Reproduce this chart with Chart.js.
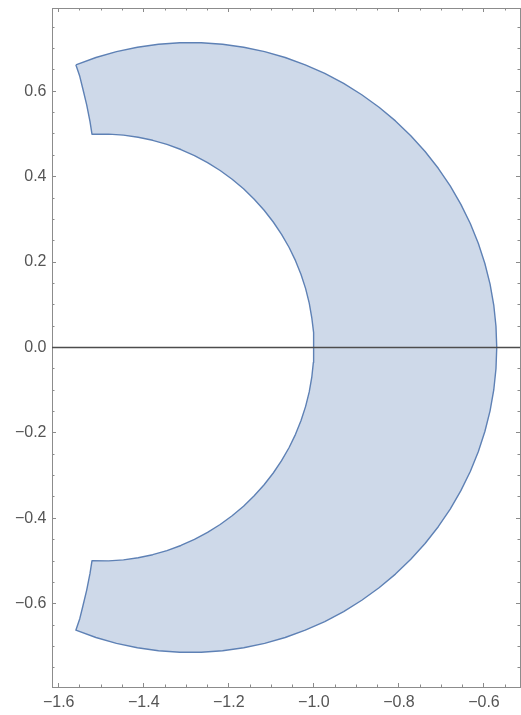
<!DOCTYPE html>
<html>
<head>
<meta charset="utf-8">
<script src="https://cdn.jsdelivr.net/npm/chart.js@4.4.1/dist/chart.umd.min.js"></script>
<style>
  html, body { margin: 0; padding: 0; background: #ffffff; }
  canvas { display: block; }
</style>
</head>
<body>
<canvas id="c" width="521" height="715"></canvas>
<script>
// Axis ranges and tick steps
const xRange = [-1.6158, -0.5153];
const yRange = [-0.795, 0.795];
const majorStep = 0.2;
const minorStep = 0.05;

// Outer arc: from the upper-left corner, clockwise round the right side, to the lower-left corner
const outerArcX = [-1.5597,-1.5125,-1.4642,-1.4150,-1.3653,-1.3151,-1.2649,-1.2147,-1.1650,-1.1158,-1.0675,-1.0203,-0.9744,-0.9300,-0.8874,-0.8467,-0.8082,-0.7721,-0.7385,-0.7075,-0.6794,-0.6543,-0.6322,-0.6134,-0.5979,-0.5857,-0.5770,-0.5718,-0.5700,
                   -0.5718,-0.5770,-0.5857,-0.5979,-0.6134,-0.6322,-0.6543,-0.6794,-0.7075,-0.7385,-0.7721,-0.8082,-0.8467,-0.8874,-0.9300,-0.9744,-1.0203,-1.0675,-1.1158,-1.1650,-1.2147,-1.2649,-1.3151,-1.3653,-1.4150,-1.4642,-1.5125,-1.5597];
const outerArcY = [0.6620,0.6791,0.6928,0.7032,0.7101,0.7136,0.7136,0.7101,0.7032,0.6928,0.6791,0.6620,0.6417,0.6183,0.5919,0.5626,0.5306,0.4960,0.4590,0.4197,0.3784,0.3352,0.2904,0.2442,0.1968,0.1484,0.0994,0.0498,0.0000,
                   -0.0498,-0.0994,-0.1484,-0.1968,-0.2442,-0.2904,-0.3352,-0.3784,-0.4197,-0.4590,-0.4960,-0.5306,-0.5626,-0.5919,-0.6183,-0.6417,-0.6620,-0.6791,-0.6928,-0.7032,-0.7101,-0.7136,-0.7136,-0.7101,-0.7032,-0.6928,-0.6791,-0.6620];

// Lower-left edge: outer lower corner to the lower end of the inner arc
const lowerEdgeX = [-1.5505,-1.5436,-1.5342,-1.5264,-1.5218];
const lowerEdgeY = [-0.6350,-0.6070,-0.5680,-0.5290,-0.4995];

// Inner arc: from its lower end, through (-1, 0), to its upper end
const innerArcX = [-1.4826,-1.4477,-1.4132,-1.3790,-1.3455,-1.3127,-1.2808,-1.2500,-1.2204,-1.1922,-1.1654,-1.1403,-1.1170,-1.0955,-1.0760,-1.0585,-1.0432,-1.0302,-1.0194,-1.0109,-1.0049,-1.0012,-1.0000,
                   -1.0012,-1.0049,-1.0109,-1.0194,-1.0302,-1.0432,-1.0585,-1.0760,-1.0955,-1.1170,-1.1403,-1.1654,-1.1922,-1.2204,-1.2500,-1.2808,-1.3127,-1.3455,-1.3790,-1.4132,-1.4477,-1.4826,-1.5218];
const innerArcY = [-0.4997,-0.4973,-0.4924,-0.4852,-0.4755,-0.4636,-0.4494,-0.4330,-0.4145,-0.3940,-0.3716,-0.3473,-0.3214,-0.2939,-0.2650,-0.2347,-0.2034,-0.1710,-0.1378,-0.1040,-0.0696,-0.0349,0.0000,
                   0.0349,0.0696,0.1040,0.1378,0.1710,0.2034,0.2347,0.2650,0.2939,0.3214,0.3473,0.3716,0.3940,0.4145,0.4330,0.4494,0.4636,0.4755,0.4852,0.4924,0.4973,0.4997,0.4995];

// Upper-left edge: upper end of the inner arc back to the outer upper corner
const upperEdgeX = [-1.5264,-1.5342,-1.5436,-1.5505,-1.5597];
const upperEdgeY = [0.5290,0.5680,0.6070,0.6350,0.6620];

// Horizontal axis line at y = 0
const axisLineX = [-1.6158, -0.5153];
const axisLineY = [0, 0];

const toPts = (xs, ys) => xs.map((x, i) => ({x: x, y: ys[i]}));
const regionPts = [].concat(
  toPts(outerArcX, outerArcY),
  toPts(lowerEdgeX, lowerEdgeY),
  toPts(innerArcX, innerArcY),
  toPts(upperEdgeX, upperEdgeY)
);

const fmt = v => {
  const r = Math.round(v * 10) / 10;
  return (r < 0 ? '\u2212' : '') + Math.abs(r).toFixed(1);
};

const FRAME = '#8c8c8c';
const TICK = '#8a8a8a';
const LABEL = '#555555';
const FONT = {family: "'Liberation Sans', Arial, sans-serif", size: 16};

function axis(kind, position, step, opts) {
  const isX = kind === 'x';
  return {
    type: 'linear',
    axis: kind,
    position: position,
    min: isX ? xRange[0] : yRange[0],
    max: isX ? xRange[1] : yRange[1],
    weight: opts.weight || 0,
    ticks: {
      stepSize: step,
      includeBounds: false,
      autoSkip: false,
      display: !!opts.labels,
      color: LABEL,
      font: FONT,
      padding: opts.padding || 0,
      maxRotation: 0,
      callback: fmt
    },
    grid: {
      drawOnChartArea: false,
      drawTicks: true,
      tickLength: opts.tickLength,
      tickColor: TICK,
      tickWidth: 1
    },
    border: {
      display: !!opts.border,
      color: FRAME,
      width: 1
    },
    afterFit: s => {
      if (isX) s.height = opts.size; else s.width = opts.size;
      s.paddingTop = 0; s.paddingBottom = 0; s.paddingLeft = 0; s.paddingRight = 0;
    }
  };
}

const ctx = document.getElementById('c').getContext('2d');
new Chart(ctx, {
  type: 'line',
  data: {
    datasets: [
      {
        label: 'axis',
        data: toPts(axisLineX, axisLineY),
        xAxisID: 'x',
        yAxisID: 'y',
        borderColor: '#4d4d4d',
        borderWidth: 1.3,
        pointRadius: 0,
        fill: false,
        tension: 0
      },
      {
        label: 'region',
        data: regionPts,
        xAxisID: 'x',
        yAxisID: 'y',
        borderColor: '#5E81B5',
        borderWidth: 1.4,
        backgroundColor: 'rgba(94,129,181,0.30)',
        fill: 'shape',
        pointRadius: 0,
        tension: 0
      }
    ]
  },
  options: {
    responsive: false,
    animation: false,
    devicePixelRatio: 1,
    layout: {padding: {left: 0, right: 1, top: 8, bottom: 0}},
    plugins: {legend: {display: false}, tooltip: {enabled: false}},
    elements: {line: {borderJoinStyle: 'round'}},
    scales: {
      x: axis('x', 'bottom', majorStep, {labels: true, padding: 10, tickLength: -4, border: true, size: 28, weight: 0}),
      xMinorB: axis('x', 'bottom', minorStep, {tickLength: -2.5, size: 0, weight: -1}),
      xTop: axis('x', 'top', majorStep, {tickLength: -4, border: true, size: 0, weight: 0}),
      xMinorT: axis('x', 'top', minorStep, {tickLength: -2.5, size: 0, weight: -1}),
      y: axis('y', 'left', majorStep, {labels: true, padding: 9.5, tickLength: -4, border: true, size: 52, weight: 0}),
      yMinorL: axis('y', 'left', minorStep, {tickLength: -2.5, size: 0, weight: -1}),
      yRight: axis('y', 'right', majorStep, {tickLength: -4, border: true, size: 0, weight: 0}),
      yMinorR: axis('y', 'right', minorStep, {tickLength: -2.5, size: 0, weight: -1})
    }
  }
});
</script>
</body>
</html>
